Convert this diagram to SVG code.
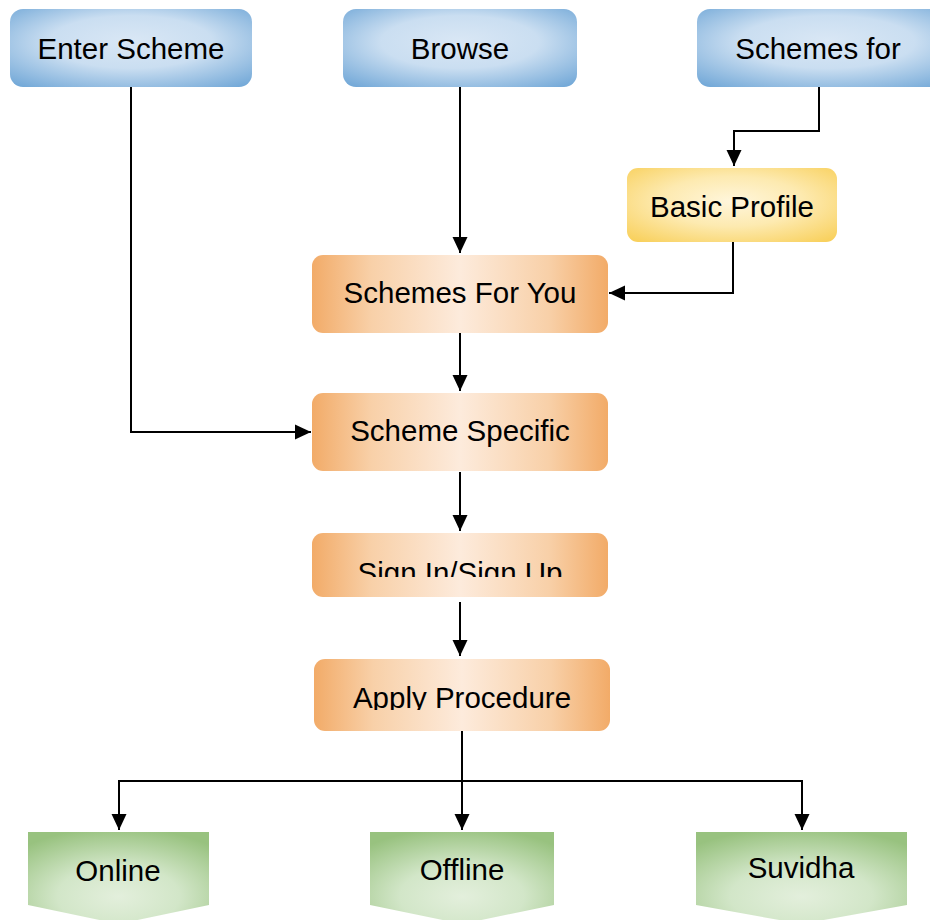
<svg xmlns="http://www.w3.org/2000/svg" width="930" height="920" viewBox="0 0 930 920">
<defs>
<radialGradient id="gBlue" cx="50%" cy="45%" r="75%" fx="50%" fy="40%">
<stop offset="0" stop-color="#d9e7f5"/>
<stop offset="0.45" stop-color="#cadef1"/>
<stop offset="1" stop-color="#6aa3d5"/>
</radialGradient>
<linearGradient id="gOrange" x1="0" y1="0" x2="1" y2="0">
<stop offset="0" stop-color="#f2ab68"/>
<stop offset="0.2" stop-color="#f8d0a8"/>
<stop offset="0.5" stop-color="#fdebdc"/>
<stop offset="0.8" stop-color="#f8d0a8"/>
<stop offset="1" stop-color="#f2ab68"/>
</linearGradient>
<radialGradient id="gYellow" cx="50%" cy="45%" r="75%">
<stop offset="0" stop-color="#fff6dc"/>
<stop offset="0.45" stop-color="#fdeab0"/>
<stop offset="1" stop-color="#f8cd52"/>
</radialGradient>
<radialGradient id="gGreen" cx="50%" cy="70%" r="75%">
<stop offset="0" stop-color="#e3efdc"/>
<stop offset="0.45" stop-color="#d2e6c8"/>
<stop offset="1" stop-color="#98c27f"/>
</radialGradient>
<marker id="arr" markerUnits="userSpaceOnUse" markerWidth="16" markerHeight="16" viewBox="0 0 16 16" refX="16" refY="8" orient="auto">
<path d="M0,0.5 L16,8 L0,15.5 Z" fill="#000"/>
</marker>
<clipPath id="clipSign"><rect x="300" y="530" width="320" height="47"/></clipPath>
<clipPath id="clipApply"><rect x="300" y="655" width="320" height="55"/></clipPath>
</defs>
<style>
.t{font-family:"Liberation Sans",Arial,sans-serif;font-size:29.5px;fill:#000;text-anchor:middle}
.c{fill:none;stroke:#000;stroke-width:2}
</style>
<g id="connectors">
<path class="c" d="M131,87 V432 H311" marker-end="url(#arr)"/>
<path class="c" d="M460,87 V253" marker-end="url(#arr)"/>
<path class="c" d="M819,87 V131 H734 V166" marker-end="url(#arr)"/>
<path class="c" d="M733,235 V293 H609" marker-end="url(#arr)"/>
<path class="c" d="M460,332 V391" marker-end="url(#arr)"/>
<path class="c" d="M460,472 V531" marker-end="url(#arr)"/>
<path class="c" d="M460,602 V656" marker-end="url(#arr)"/>
<path class="c" d="M462,731 V830" marker-end="url(#arr)"/>
<path class="c" d="M119,797 V781 H802 V830" marker-end="url(#arr)"/>
<path class="c" d="M119,795 V830" marker-end="url(#arr)"/>
</g>
<g id="enter-scheme">
<rect x="10" y="9" width="242" height="78" rx="13" fill="url(#gBlue)"/>
<text class="t" x="131" y="59">Enter Scheme</text>
</g>
<g id="browse">
<rect x="343" y="9" width="234" height="78" rx="13" fill="url(#gBlue)"/>
<text class="t" x="460" y="59">Browse</text>
</g>
<g id="schemes-for">
<rect x="697" y="9" width="260" height="78" rx="13" fill="url(#gBlue)"/>
<text class="t" x="818" y="59">Schemes for</text>
</g>
<g id="basic-profile">
<rect x="627" y="168" width="210" height="74" rx="11" fill="url(#gYellow)"/>
<text class="t" x="732" y="217">Basic Profile</text>
</g>
<g id="schemes-for-you">
<rect x="312" y="255" width="296" height="78" rx="11" fill="url(#gOrange)"/>
<text class="t" x="460" y="303">Schemes For You</text>
</g>
<g id="scheme-specific">
<rect x="312" y="393" width="296" height="78" rx="11" fill="url(#gOrange)"/>
<text class="t" x="460" y="441">Scheme Specific</text>
</g>
<g id="sign-in">
<rect x="312" y="533" width="296" height="64" rx="11" fill="url(#gOrange)"/>
<text class="t" x="460" y="583" clip-path="url(#clipSign)">Sign In/Sign Up</text>
</g>
<g id="apply-procedure">
<rect x="314" y="659" width="296" height="72" rx="11" fill="url(#gOrange)"/>
<text class="t" x="462" y="708" clip-path="url(#clipApply)">Apply Procedure</text>
</g>
<g id="online">
<path d="M28,832 H209 V905 L118.5,924 L28,905 Z" fill="url(#gGreen)"/>
<text class="t" x="118" y="881">Online</text>
</g>
<g id="offline">
<path d="M370,832 H554 V905 L462,924 L370,905 Z" fill="url(#gGreen)"/>
<text class="t" x="462" y="880">Offline</text>
</g>
<g id="suvidha">
<path d="M696,832 H907 V905 L801.5,924 L696,905 Z" fill="url(#gGreen)"/>
<text class="t" x="801" y="878">Suvidha</text>
</g>
</svg>
